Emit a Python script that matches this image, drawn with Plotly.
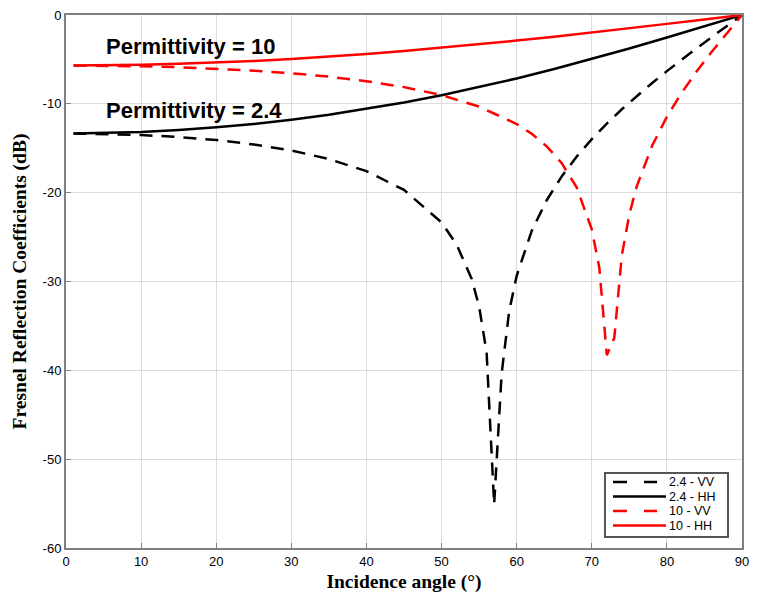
import plotly.graph_objects as go

# Incidence angles (deg) and read-off values (dB)
angle_hh = [1, 5, 10, 15, 20, 25, 30, 35, 40, 45, 50, 55, 60, 65, 70, 75, 80, 85, 90]
hh_24 = [-13.33, -13.29, -13.16, -12.95, -12.65, -12.26, -11.79, -11.23, -10.58, -9.85,
         -9.03, -8.12, -7.14, -6.08, -4.95, -3.77, -2.54, -1.28, 0.0]
hh_10 = [-5.69, -5.67, -5.60, -5.50, -5.36, -5.17, -4.95, -4.69, -4.39, -4.06,
         -3.69, -3.30, -2.88, -2.44, -1.98, -1.50, -1.00, -0.50, 0.0]

angle_vv24 = [1, 5, 10, 15, 20, 25, 30, 35, 40, 45, 50, 52, 54, 55, 56, 57, 58, 59, 60,
              62, 64, 66, 68, 70, 72, 74, 76, 78, 80, 82, 84, 86, 88, 90]
vv_24 = [-13.34, -13.38, -13.51, -13.74, -14.08, -14.57, -15.25, -16.21, -17.58, -19.69,
         -23.36, -25.82, -29.69, -32.80, -38.00, -55.09, -40.36, -33.35, -29.37,
         -24.30, -20.85, -18.17, -15.93, -13.97, -12.22, -10.61, -9.10, -7.68, -6.32,
         -5.00, -3.72, -2.47, -1.23, 0.0]

angle_vv10 = [1, 5, 10, 15, 20, 25, 30, 35, 40, 45, 50, 55, 60, 62, 64, 66, 68, 70, 71,
              72, 73, 74, 75, 76, 78, 80, 82, 84, 86, 88, 90]
vv_10 = [-5.69, -5.71, -5.77, -5.88, -6.04, -6.27, -6.56, -6.94, -7.45, -8.12, -9.02,
         -10.31, -12.27, -13.37, -14.78, -16.68, -19.43, -24.12, -28.42, -38.29, -36.34,
         -27.05, -22.44, -19.27, -14.78, -11.45, -8.71, -6.31, -4.11, -2.03, 0.0]

series_names = ["2.4 - VV", "2.4 - HH", "10 - VV", "10 - HH"]

x_ticks = [0, 10, 20, 30, 40, 50, 60, 70, 80, 90]
y_ticks = [0, -10, -20, -30, -40, -50, -60]
y_tick_text = ["0", "-10", "-20", "-30", "-40", "-50", "-60"]

DASH = "13px,9px"
RED = "#ff0000"
styles = [("black", DASH), ("black", "solid"), (RED, DASH), (RED, "solid")]
xs = [angle_vv24, angle_hh, angle_vv10, angle_hh]
ys = [vv_24, hh_24, vv_10, hh_10]

fig = go.Figure()
for name, x, y, (col, dash) in zip(series_names, xs, ys, styles):
    fig.add_trace(go.Scatter(x=x, y=y, mode="lines", name=name, showlegend=False,
                             line=dict(color=col, width=2.5, dash=dash)))

ann_font = dict(family="Liberation Sans, Arial", size=22, color="black", weight="bold")
fig.add_annotation(x=5.0, y=-3.5, text="Permittivity = 10", showarrow=False,
                   xanchor="left", yanchor="middle", font=ann_font)
fig.add_annotation(x=5.0, y=-10.7, text="Permittivity = 2.4", showarrow=False,
                   xanchor="left", yanchor="middle", font=ann_font)

# Compact legend box (lower right), drawn in paper coordinates
fig.add_shape(type="rect", xref="paper", yref="paper", x0=0.7973, x1=0.9793,
              y0=0.0206, y1=0.1407, line=dict(color="#555555", width=2),
              fillcolor="white", layer="above")
leg_y = [0.1238, 0.0966, 0.0694, 0.0422]
for name, (col, dash), ly in zip(series_names, styles, leg_y):
    if dash == "solid":
        fig.add_shape(type="line", xref="paper", yref="paper", x0=0.8092, x1=0.8876,
                      y0=ly, y1=ly, line=dict(color=col, width=2.5), layer="above")
    else:
        fig.add_shape(type="line", xref="paper", yref="paper", x0=0.8092, x1=0.8743,
                      y0=ly, y1=ly, line=dict(color=col, width=2.5, dash="14px,17px"),
                      layer="above")
    fig.add_annotation(xref="paper", yref="paper", x=0.8905, y=ly, text=name,
                       showarrow=False, xanchor="left", yanchor="middle", borderpad=0,
                       font=dict(family="Liberation Sans, Arial", size=12.5, color="black"))

axis_common = dict(showline=True, mirror=True, linecolor="#7f7f7f", linewidth=2,
                   showgrid=True, gridcolor="#dcdcdc", gridwidth=1,
                   ticks="inside", ticklen=5, tickcolor="#7f7f7f", tickwidth=1,
                   zeroline=False, automargin=False,
                   tickfont=dict(family="Liberation Sans, Arial", size=13, color="black"))

title_font = dict(family="Liberation Serif, Times New Roman", size=19.5,
                  color="black", weight="bold")

fig.update_layout(
    width=742, height=585,
    margin=dict(l=58, r=8, t=7, b=45),
    plot_bgcolor="white", paper_bgcolor="white",
    showlegend=False,
    xaxis=dict(range=[0, 90], tickvals=x_ticks, ticklabeloverflow="allow",
               title=dict(text="Incidence angle (°)", standoff=7, font=title_font),
               **axis_common),
    yaxis=dict(range=[-60, 0], tickvals=y_ticks, ticktext=y_tick_text,
               ticklabeloverflow="allow",
               title=dict(text="Fresnel Reflection Coefficients (dB)", standoff=11,
                          font=title_font),
               **axis_common),
)

fig.write_html("out.html")
